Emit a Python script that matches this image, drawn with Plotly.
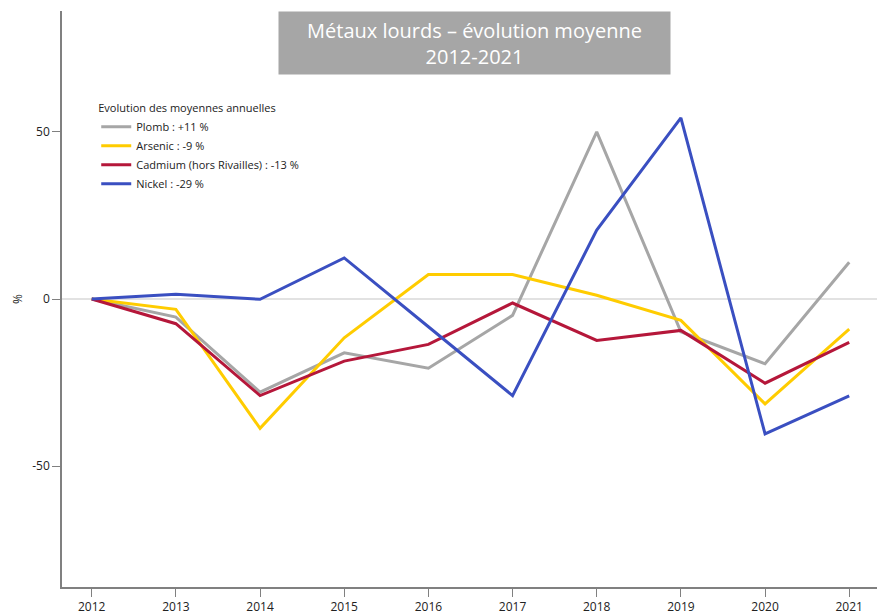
import plotly.graph_objects as go

years = [2012, 2013, 2014, 2015, 2016, 2017, 2018, 2019, 2020, 2021]

plomb = [0, -5.4, -27.9, -16.1, -20.7, -4.9, 50.0, -9.8, -19.4, 11]
arsenic = [0, -3.1, -38.7, -11.6, 7.3, 7.3, 1.1, -6.4, -31.4, -9]
cadmium = [0, -7.4, -28.9, -18.6, -13.6, -1.2, -12.4, -9.4, -25.2, -13]
nickel = [0, 1.4, -0.1, 12.3, -8.3, -28.9, 20.6, 54.2, -40.4, -29]

series = [
    ("Plomb : +11 %", plomb, "#a6a6a6"),
    ("Arsenic : -9 %", arsenic, "#ffcc00"),
    ("Cadmium (hors Rivailles) : -13 %", cadmium, "#b5173a"),
    ("Nickel : -29 %", nickel, "#3a4fc1"),
]

y_ticks = [-50, 0, 50]

FONT = "Open Sans"

fig = go.Figure()
for name, vals, color in series:
    fig.add_trace(go.Scatter(
        x=years, y=vals, mode="lines", name=name,
        line=dict(color=color, width=3),
    ))

# reference line at zero
fig.add_shape(type="line", xref="paper", x0=0, x1=1, yref="y", y0=0, y1=0,
              line=dict(color="#d9d9d9", width=1.5), layer="below")

fig.update_layout(
    width=877, height=614,
    margin=dict(l=62, r=0, t=11, b=27),
    paper_bgcolor="white", plot_bgcolor="white",
    font=dict(family=FONT, size=12, color="#222222"),
    showlegend=True,
    legend=dict(
        x=0.042, y=0.849, xanchor="left", yanchor="top",
        bgcolor="rgba(0,0,0,0)",
        font=dict(family=FONT, size=11, color="#222222"),
        title=dict(text="Evolution des moyennes annuelles",
                   font=dict(family=FONT, size=11, color="#222222")),
        tracegroupgap=0, itemwidth=30,
    ),
    annotations=[dict(
        text="Métaux lourds – évolution moyenne<br>2012-2021",
        xref="paper", yref="paper", x=0.506, y=1.0,
        xanchor="center", yanchor="top",
        showarrow=False, bgcolor="#a6a6a6",
        width=383, height=54, borderpad=4,
        font=dict(family=FONT, size=20, color="white"),
    )],
)

fig.update_xaxes(
    range=[2011.647, 2021.33],
    tickmode="array", tickvals=years, ticktext=[str(y) for y in years],
    showgrid=False, zeroline=False,
    showline=True, linecolor="#808080", linewidth=1.5,
    ticks="outside", ticklen=8, tickcolor="#808080", tickwidth=1,
    tickfont=dict(family=FONT, size=12, color="#222222"),
)
fig.update_yaxes(
    range=[-86.2, 86.2],
    tickmode="array", tickvals=y_ticks, ticktext=[str(v) for v in y_ticks],
    showgrid=False, zeroline=False,
    showline=True, linecolor="#808080", linewidth=1.5,
    ticks="outside", ticklen=8, tickcolor="#808080", tickwidth=1,
    tickfont=dict(family=FONT, size=12, color="#222222"),
    title=dict(text="%", standoff=7, font=dict(family=FONT, size=12, color="#222222")),
)

fig.write_html("out.html")
